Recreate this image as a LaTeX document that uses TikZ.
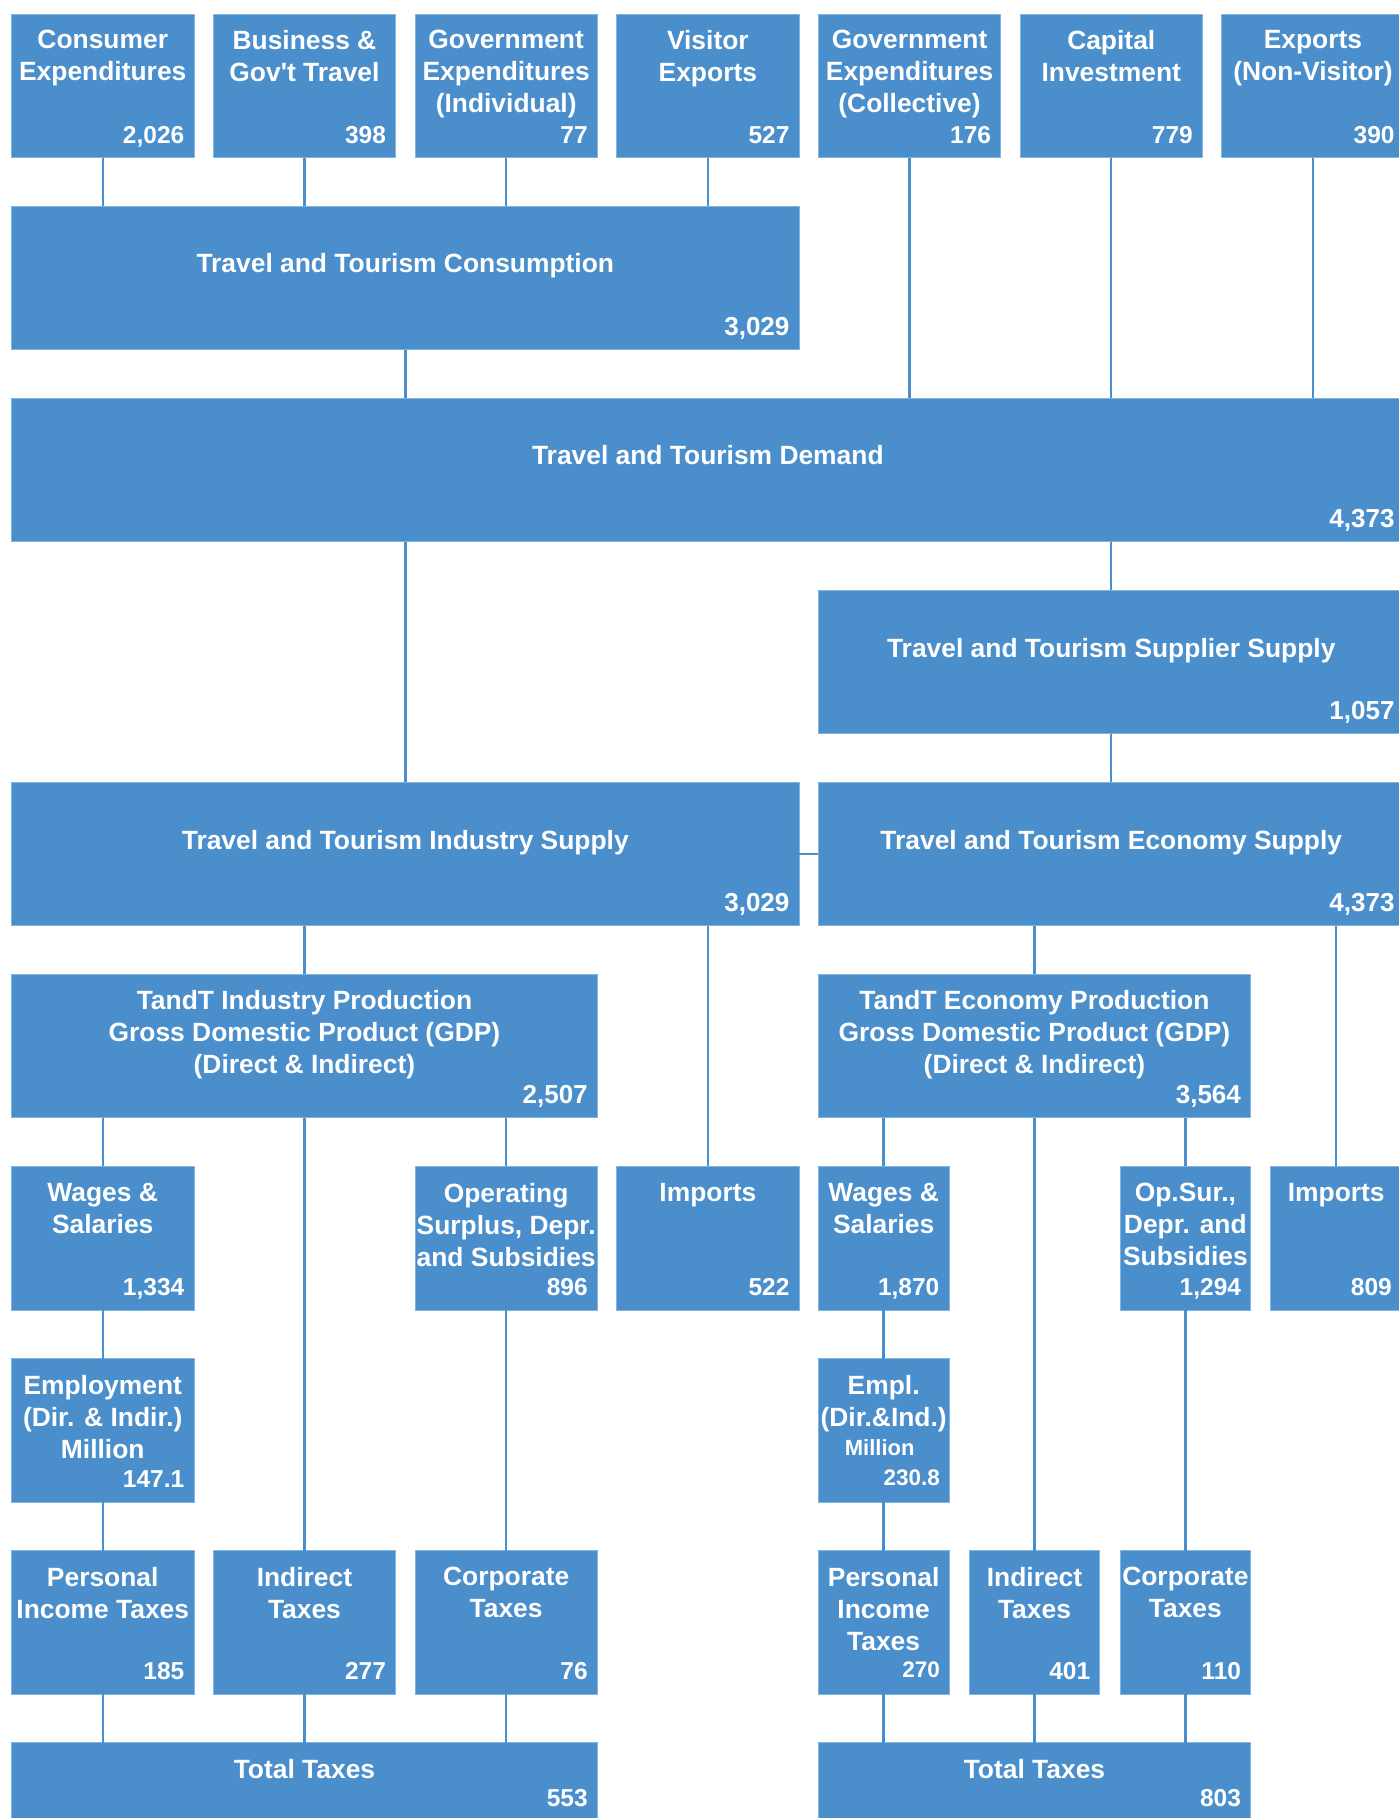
\documentclass[tikz,border=0pt]{standalone}
\usepackage{fontspec}
\setmainfont{Liberation Sans}
\usetikzlibrary{positioning}
\definecolor{boxFill}{HTML}{4A8ECC}
\definecolor{boxEdge}{HTML}{82B4E0}
\definecolor{linkBlue}{HTML}{4A8ECC}
\tikzset{
  flowbox/.style={draw=boxEdge, line width=0.8pt, fill=boxFill, inner sep=0pt,
    outer sep=0pt, anchor=north west, minimum height=143.5pt},
  unitbox/.style={flowbox, minimum width=182.5pt},
  slimbox/.style={flowbox, minimum width=130.7pt},
  boxtext/.style={text=white, inner sep=0pt, outer sep=0pt},
  titletext/.style={boxtext, font=\fontsize{26.4}{32}\selectfont\bfseries, align=center},
  minortext/.style={boxtext, font=\fontsize{22}{27}\selectfont\bfseries, anchor=base},
  valtext/.style={boxtext, font=\fontsize{24.5}{29}\selectfont\bfseries, anchor=base east,
    xshift=-9.7pt, yshift=14.4pt},
  bigval/.style={boxtext, font=\fontsize{26}{30}\selectfont\bfseries, anchor=base east,
    xshift=-9.7pt, yshift=14.4pt},
  smallval/.style={boxtext, font=\fontsize{22.5}{27}\selectfont\bfseries, anchor=base east,
    xshift=-9pt, yshift=16.5pt},
  taxval/.style={boxtext, font=\fontsize{24.5}{29}\selectfont\bfseries, anchor=base east,
    xshift=-9.7pt, yshift=-64pt},
  link/.style={draw=linkBlue, line width=2.4pt},
}

\begin{document}
\begin{tikzpicture}[x=1pt, y=-1pt]
  \useasboundingbox (0,0) rectangle (1399,1818);
  \clip (0,0) rectangle (1399,1818);

  \node[unitbox] (consExp) at (11.5,14) {};
  \node[unitbox] (busTravel) at (213.2,14) {};
  \node[unitbox] (govInd) at (414.9,14) {};
  \node[unitbox] (visExp) at (616.6,14) {};
  \node[unitbox] (govCol) at (818.3,14) {};
  \node[unitbox] (capInv) at (1020,14) {};
  \node[unitbox] (expNV) at (1221.7,14) {};
  \node[flowbox, minimum width=787.6pt] (ttCons) at (11.5,206.07) {};
  \node[flowbox, minimum width=1392.7pt] (ttDem) at (11.5,398.14) {};
  \node[flowbox, minimum width=585.9pt] (ttSupp) at (818.3,590.21) {};
  \node[flowbox, minimum width=787.6pt] (ttInd) at (11.5,782.28) {};
  \node[flowbox, minimum width=585.9pt] (ttEco) at (818.3,782.28) {};
  \node[flowbox, minimum width=585.9pt] (indGdp) at (11.5,974.35) {};
  \node[flowbox, minimum width=432.3pt] (ecoGdp) at (818.3,974.35) {};
  \node[unitbox] (indWage) at (11.5,1166.42) {};
  \node[unitbox] (indOps) at (414.9,1166.42) {};
  \node[unitbox] (indImp) at (616.6,1166.42) {};
  \node[slimbox] (ecoWage) at (818.3,1166.42) {};
  \node[slimbox] (ecoOps) at (1120,1166.42) {};
  \node[slimbox] (ecoImp) at (1270.85,1166.42) {};
  \node[unitbox] (indEmp) at (11.5,1358.49) {};
  \node[slimbox] (ecoEmp) at (818.3,1358.49) {};
  \node[unitbox] (indPit) at (11.5,1550.56) {};
  \node[unitbox] (indItx) at (213.2,1550.56) {};
  \node[unitbox] (indCtx) at (414.9,1550.56) {};
  \node[slimbox] (ecoPit) at (818.3,1550.56) {};
  \node[slimbox] (ecoItx) at (969.15,1550.56) {};
  \node[slimbox] (ecoCtx) at (1120,1550.56) {};
  \node[flowbox, minimum width=585.9pt] (indTax) at (11.5,1742.63) {};
  \node[flowbox, minimum width=432.3pt] (ecoTax) at (818.3,1742.63) {};

  \node[titletext, below=16.5pt of consExp.north] (consExp-t) {Consumer\\Expenditures};
  \node[titletext, below=16.5pt of busTravel.north] (busTravel-t) {Business \&\\Gov\textquotesingle t Travel};
  \node[titletext, below=16.5pt of govInd.north] (govInd-t) {Government\\Expenditures\\(Individual)};
  \node[titletext, below=16.5pt of visExp.north] (visExp-t) {Visitor\\Exports};
  \node[titletext, below=16.5pt of govCol.north] (govCol-t) {Government\\Expenditures\\(Collective)};
  \node[titletext, below=16.5pt of capInv.north] (capInv-t) {Capital\\Investment};
  \node[titletext, below=16.5pt of expNV.north] (expNV-t) {Exports\\(Non-Visitor)};
  \node[titletext, below=47.7pt of ttCons.north] (ttCons-t) {Travel and Tourism Consumption};
  \node[titletext, below=47.7pt of ttDem.north] (ttDem-t) {Travel and Tourism Demand};
  \node[titletext, below=47.7pt of ttSupp.north] (ttSupp-t) {Travel and Tourism Supplier Supply};
  \node[titletext, below=47.7pt of ttInd.north] (ttInd-t) {Travel and Tourism Industry Supply};
  \node[titletext, below=47.7pt of ttEco.north] (ttEco-t) {Travel and Tourism Economy Supply};
  \node[titletext, below=16.5pt of indGdp.north] (indGdp-t) {TandT Industry Production\\Gross Domestic Product (GDP)\\(Direct \& Indirect)};
  \node[titletext, below=16.5pt of ecoGdp.north] (ecoGdp-t) {TandT Economy Production\\Gross Domestic Product (GDP)\\(Direct \& Indirect)};
  \node[titletext, below=16.5pt of indWage.north] (indWage-t) {Wages \&\\Salaries};
  \node[titletext, below=16.5pt of indOps.north] (indOps-t) {Operating\\Surplus, Depr.\\and Subsidies};
  \node[titletext, below=16.5pt of indImp.north] (indImp-t) {Imports};
  \node[titletext, below=16.5pt of ecoWage.north] (ecoWage-t) {Wages \&\\Salaries};
  \node[titletext, below=16.5pt of ecoOps.north] (ecoOps-t) {Op.Sur.,\\Depr. and\\Subsidies};
  \node[titletext, below=16.5pt of ecoImp.north] (ecoImp-t) {Imports};
  \node[titletext, below=16.5pt of indEmp.north] (indEmp-t) {Employment\\(Dir. \& Indir.)\\Million};
  \node[titletext, below=16.5pt of ecoEmp.north] (ecoEmp-t) {Empl.\\(Dir.\&Ind.)};
  \node[minortext, below=96.5pt of ecoEmp.north, anchor=base, xshift=-4pt] (ecoEmp-m) {Million};
  \node[titletext, below=16.5pt of indPit.north] (indPit-t) {Personal\\Income Taxes};
  \node[titletext, below=16.5pt of indItx.north] (indItx-t) {Indirect\\Taxes};
  \node[titletext, below=16.5pt of indCtx.north] (indCtx-t) {Corporate\\Taxes};
  \node[titletext, below=16.5pt of ecoPit.north] (ecoPit-t) {Personal\\Income\\Taxes};
  \node[titletext, below=16.5pt of ecoItx.north] (ecoItx-t) {Indirect\\Taxes};
  \node[titletext, below=16.5pt of ecoCtx.north] (ecoCtx-t) {Corporate\\Taxes};
  \node[titletext, below=16.5pt of indTax.north] (indTax-t) {Total Taxes};
  \node[titletext, below=16.5pt of ecoTax.north] (ecoTax-t) {Total Taxes};

  \node[valtext] (consExp-v) at (consExp.south east) {2,026};
  \node[valtext] (busTravel-v) at (busTravel.south east) {398};
  \node[valtext] (govInd-v) at (govInd.south east) {77};
  \node[valtext] (visExp-v) at (visExp.south east) {527};
  \node[valtext] (govCol-v) at (govCol.south east) {176};
  \node[valtext] (capInv-v) at (capInv.south east) {779};
  \node[valtext] (expNV-v) at (expNV.south east) {390};
  \node[bigval] (ttCons-v) at (ttCons.south east) {3,029};
  \node[bigval] (ttDem-v) at (ttDem.south east) {4,373};
  \node[bigval] (ttSupp-v) at (ttSupp.south east) {1,057};
  \node[bigval] (ttInd-v) at (ttInd.south east) {3,029};
  \node[bigval] (ttEco-v) at (ttEco.south east) {4,373};
  \node[bigval] (indGdp-v) at (indGdp.south east) {2,507};
  \node[bigval] (ecoGdp-v) at (ecoGdp.south east) {3,564};
  \node[valtext] (indWage-v) at (indWage.south east) {1,334};
  \node[valtext] (indOps-v) at (indOps.south east) {896};
  \node[valtext] (indImp-v) at (indImp.south east) {522};
  \node[valtext] (ecoWage-v) at (ecoWage.south east) {1,870};
  \node[valtext] (ecoOps-v) at (ecoOps.south east) {1,294};
  \node[valtext] (ecoImp-v) at (ecoImp.south east) {809};
  \node[valtext] (indEmp-v) at (indEmp.south east) {147.1};
  \node[smallval] (ecoEmp-v) at (ecoEmp.south east) {230.8};
  \node[valtext] (indPit-v) at (indPit.south east) {185};
  \node[valtext] (indItx-v) at (indItx.south east) {277};
  \node[valtext] (indCtx-v) at (indCtx.south east) {76};
  \node[smallval] (ecoPit-v) at (ecoPit.south east) {270};
  \node[valtext] (ecoItx-v) at (ecoItx.south east) {401};
  \node[valtext] (ecoCtx-v) at (ecoCtx.south east) {110};
  \node[taxval] (indTax-v) at (indTax.north east) {553};
  \node[taxval] (ecoTax-v) at (ecoTax.north east) {803};

  \draw[link] (consExp.south) -- (consExp.south |- ttCons.north);
  \draw[link] (busTravel.south) -- (busTravel.south |- ttCons.north);
  \draw[link] (govInd.south) -- (govInd.south |- ttCons.north);
  \draw[link] (visExp.south) -- (visExp.south |- ttCons.north);
  \draw[link] (govCol.south) -- (govCol.south |- ttDem.north);
  \draw[link] (capInv.south) -- (capInv.south |- ttDem.north);
  \draw[link] (expNV.south) -- (expNV.south |- ttDem.north);
  \draw[link] (ttCons.south) -- (ttCons.south |- ttDem.north);
  \draw[link] (ttInd.north) -- (ttInd.north |- ttDem.south);
  \draw[link] (ttSupp.north) -- (ttSupp.north |- ttDem.south);
  \draw[link] (ttSupp.south) -- (ttSupp.south |- ttEco.north);
  \draw[link] (ttInd.east) -- (ttEco.west);
  \draw[link] (indGdp.north) -- (indGdp.north |- ttInd.south);
  \draw[link] (indImp.north) -- (indImp.north |- ttInd.south);
  \draw[link] (ecoGdp.north) -- (ecoGdp.north |- ttEco.south);
  \draw[link] (ecoImp.north) -- (ecoImp.north |- ttEco.south);
  \draw[link] (indWage.north) -- (indWage.north |- indGdp.south);
  \draw[link] (indItx.north) -- (indItx.north |- indGdp.south);
  \draw[link] (indOps.north) -- (indOps.north |- indGdp.south);
  \draw[link] (ecoWage.north) -- (ecoWage.north |- ecoGdp.south);
  \draw[link] (ecoItx.north) -- (ecoItx.north |- ecoGdp.south);
  \draw[link] (ecoOps.north) -- (ecoOps.north |- ecoGdp.south);
  \draw[link] (indWage.south) -- (indEmp.north);
  \draw[link] (indEmp.south) -- (indPit.north);
  \draw[link] (indOps.south) -- (indCtx.north);
  \draw[link] (ecoWage.south) -- (ecoEmp.north);
  \draw[link] (ecoEmp.south) -- (ecoPit.north);
  \draw[link] (ecoOps.south) -- (ecoCtx.north);
  \draw[link] (indPit.south) -- (indPit.south |- indTax.north);
  \draw[link] (indItx.south) -- (indItx.south |- indTax.north);
  \draw[link] (indCtx.south) -- (indCtx.south |- indTax.north);
  \draw[link] (ecoPit.south) -- (ecoPit.south |- ecoTax.north);
  \draw[link] (ecoItx.south) -- (ecoItx.south |- ecoTax.north);
  \draw[link] (ecoCtx.south) -- (ecoCtx.south |- ecoTax.north);
\end{tikzpicture}
\end{document}
